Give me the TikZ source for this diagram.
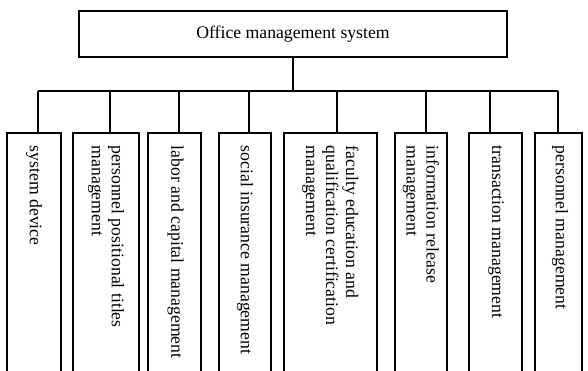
\documentclass[tikz,border=0pt]{standalone}
\usepackage{fontspec}
\setmainfont{Liberation Serif}
\begin{document}
\begin{tikzpicture}[x=1pt,y=-1pt,line width=1.5pt,
  box/.style={draw,rectangle,inner sep=0pt},
  lbl/.style={rotate=-90,anchor=west,align=left,inner sep=0pt,font=\fontsize{17.7}{20}\selectfont},
  conn/.style={draw,line width=1.5pt}]
\useasboundingbox (0,0) rectangle (588,370);
\clip (0,0) rectangle (588,370);
\node[box,minimum width=428pt,minimum height=46pt,font=\fontsize{17.7}{20}\selectfont] (top) at (293,34) {Office management system};
\coordinate (bus) at (293,91);
% sub boxes: top 133, bottom 400
\node[box,minimum width=54pt,minimum height=267pt] (b1) at (34,266.5) {};
\node[box,minimum width=66pt,minimum height=267pt] (b2) at (106,266.5) {};
\node[box,minimum width=53pt,minimum height=267pt] (b3) at (174.5,266.5) {};
\node[box,minimum width=52pt,minimum height=267pt] (b4) at (245,266.5) {};
\node[box,minimum width=93pt,minimum height=267pt] (b5) at (330.5,266.5) {};
\node[box,minimum width=52pt,minimum height=267pt] (b6) at (421,266.5) {};
\node[box,minimum width=53pt,minimum height=267pt] (b7) at (495.5,266.5) {};
\node[box,minimum width=47pt,minimum height=267pt] (b8) at (558.5,266.5) {};
% labels
\node[lbl] (t1) at (34,145) {system device};
\node[lbl] (t2) at (106,145) {personnel positional titles\\management};
\node[lbl] (t3) at (175.5,145) {labor and capital management};
\node[lbl] (t4) at (245,145) {social insurance management};
\node[lbl] (t5) at (330.5,145) {faculty education and\\qualification certification\\management};
\node[lbl] (t6) at (421,145) {information release\\management};
\node[lbl] (t7) at (496,145) {transaction management};
\node[lbl] (t8) at (560,145) {personnel management};
% connectors
\coordinate (j1) at (38,91);
\coordinate (j2) at (110,91);
\coordinate (j3) at (179,91);
\coordinate (j4) at (249,91);
\coordinate (j5) at (337,91);
\coordinate (j6) at (426,91);
\coordinate (j7) at (490,91);
\coordinate (j8) at (558,91);
\path[conn] (top.south) -- (bus);
\path[conn] (j1) -- (j8);
\foreach \i in {1,...,8}{
  \path[conn] (j\i) -- (j\i |- b\i.north);
}
\end{tikzpicture}
\end{document}
